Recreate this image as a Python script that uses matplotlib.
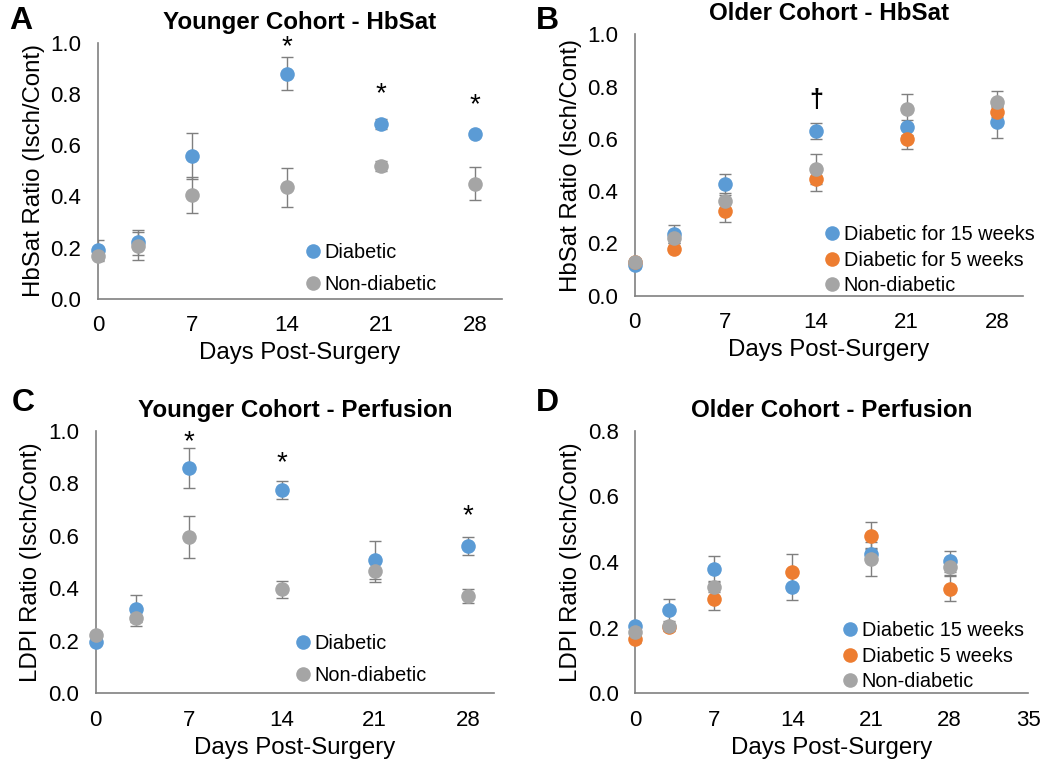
import matplotlib
matplotlib.use("Agg")
import matplotlib.pyplot as plt
import numpy as np

plt.rcParams['font.family'] = ['Liberation Sans', 'DejaVu Sans']

days = [0, 3, 7, 14, 21, 28]

# A - younger cohort HbSat
a_diab = [0.19, 0.22, 0.56, 0.88, 0.683, 0.645]
a_diab_err = [0.04, 0.05, 0.09, 0.065, 0.02, 0.01]
a_non = [0.166, 0.207, 0.407, 0.435, 0.518, 0.45]
a_non_err = [0.02, 0.055, 0.07, 0.075, 0.02, 0.065]

# B - older cohort HbSat
b_d15 = [0.117, 0.236, 0.426, 0.631, 0.644, 0.665]
b_d15_err = [0.01, 0.035, 0.04, 0.03, 0.03, 0.06]
b_d5 = [0.13, 0.18, 0.325, 0.446, 0.60, 0.703]
b_d5_err = [0.01, 0.01, 0.043, 0.046, 0.04, 0.02]
b_non = [0.13, 0.22, 0.362, 0.485, 0.713, 0.74]
b_non_err = [0.01, 0.02, 0.03, 0.058, 0.057, 0.045]

# C - younger cohort perfusion
c_diab = [0.197, 0.322, 0.858, 0.774, 0.508, 0.561]
c_diab_err = [0.01, 0.052, 0.076, 0.036, 0.071, 0.035]
c_non = [0.222, 0.288, 0.595, 0.396, 0.467, 0.371]
c_non_err = [0.01, 0.032, 0.08, 0.032, 0.044, 0.027]

# D - older cohort perfusion
d_d15 = [0.205, 0.254, 0.378, 0.323, 0.424, 0.403]
d_d15_err = [0.01, 0.033, 0.039, 0.039, 0.02, 0.032]
d_d5 = [0.164, 0.201, 0.286, 0.371, 0.48, 0.319]
d_d5_err = [0.01, 0.01, 0.031, 0.053, 0.041, 0.037]
d_non = [0.186, 0.205, 0.325, np.nan, 0.409, 0.384]
d_non_err = [0.01, 0.01, 0.017, 0.0, 0.052, 0.024]

blue = '#5B9BD5'
orange = '#ED7D31'
gray = '#A5A5A5'
errc = '#7F7F7F'
axc = '#808080'

W, H = 1057, 764
fig = plt.figure(figsize=(W / 100, H / 100), dpi=100)


def panel(rect, series, title, ylabel, ymax, xmax, xticks, leg_xy, legspace):
    ax = fig.add_axes(rect)
    for vals, err, col, lab in series:
        ax.errorbar(days, vals, yerr=err, fmt='none', ecolor=errc, elinewidth=1.0,
                    capsize=4, capthick=1.0, zorder=2)
    for vals, err, col, lab in series:
        ax.plot(days, vals, 'o', color=col, markersize=10.5, label=lab, zorder=3,
                markeredgewidth=0, clip_on=False)
    ax.set_xlim(0, xmax)
    ax.set_ylim(0, ymax)
    ax.set_xticks(xticks)
    ax.set_yticks(np.arange(0, ymax + 0.01, 0.2))
    ax.yaxis.set_major_formatter(matplotlib.ticker.FormatStrFormatter('%.1f'))
    ax.tick_params(length=0, labelsize=16, pad=12, colors='black')
    for s in ['top', 'right']:
        ax.spines[s].set_visible(False)
    for s in ['left', 'bottom']:
        ax.spines[s].set_color(axc)
        ax.spines[s].set_linewidth(1.2)
    ax.set_title(title, fontsize=17.4, fontweight='bold', pad=10)
    ax.set_ylabel(ylabel, fontsize=17.3, labelpad=4)
    ax.set_xlabel('Days Post-Surgery', fontsize=17.3, labelpad=4)
    # legend anchored by pixel position of its top-left corner
    ax.legend(loc='upper left', bbox_to_anchor=(leg_xy[0] / W, 1 - leg_xy[1] / H),
              bbox_transform=fig.transFigure, frameon=False, fontsize=14.3,
              handletextpad=0.0, handlelength=1.2, borderaxespad=0, borderpad=0,
              labelspacing=legspace)
    return ax


axA = panel([0.0927, 0.609, 0.3823, 0.3347],
            [(a_diab, a_diab_err, blue, 'Diabetic'), (a_non, a_non_err, gray, 'Non-diabetic')],
            'Younger Cohort - HbSat', 'HbSat Ratio (Isch/Cont)', 1.0, 30, [0, 7, 14, 21, 28],
            (301, 243), 0.66)
axB = panel([0.6005, 0.613, 0.3675, 0.342],
            [(b_d15, b_d15_err, blue, 'Diabetic for 15 weeks'),
             (b_d5, b_d5_err, orange, 'Diabetic for 5 weeks'),
             (b_non, b_non_err, gray, 'Non-diabetic')],
            'Older Cohort - HbSat', 'HbSat Ratio (Isch/Cont)', 1.0, 30, [0, 7, 14, 21, 28],
            (820, 225), 0.33)
axC = panel([0.0905, 0.0925, 0.3772, 0.3438],
            [(c_diab, c_diab_err, blue, 'Diabetic'), (c_non, c_non_err, gray, 'Non-diabetic')],
            'Younger Cohort - Perfusion', 'LDPI Ratio (Isch/Cont)', 1.0, 30, [0, 7, 14, 21, 28],
            (291, 634), 0.66)
axD = panel([0.601, 0.0925, 0.3719, 0.3438],
            [(d_d15, d_d15_err, blue, 'Diabetic 15 weeks'),
             (d_d5, d_d5_err, orange, 'Diabetic 5 weeks'),
             (d_non, d_non_err, gray, 'Non-diabetic')],
            'Older Cohort - Perfusion', 'LDPI Ratio (Isch/Cont)', 0.8, 35, [0, 7, 14, 21, 28, 35],
            (838, 621), 0.33)

# significance marks
for x, y in [(14, 0.985), (21, 0.80), (28, 0.755)]:
    axA.text(x, y, '*', ha='center', va='center', fontsize=20)
axB.text(14, 0.75, '\u2020', ha='center', va='center', fontsize=18, fontweight='bold')
for x, y in [(7, 0.955), (14, 0.875), (28, 0.675)]:
    axC.text(x, y, '*', ha='center', va='center', fontsize=20)

# panel letters
for lab, x, y in [('A', 0.009, 0.972), ('B', 0.507, 0.972), ('C', 0.011, 0.473), ('D', 0.507, 0.472)]:
    fig.text(x, y, lab, fontsize=23, fontweight='bold', va='center', ha='left')

fig.savefig('out.png', dpi=100)
